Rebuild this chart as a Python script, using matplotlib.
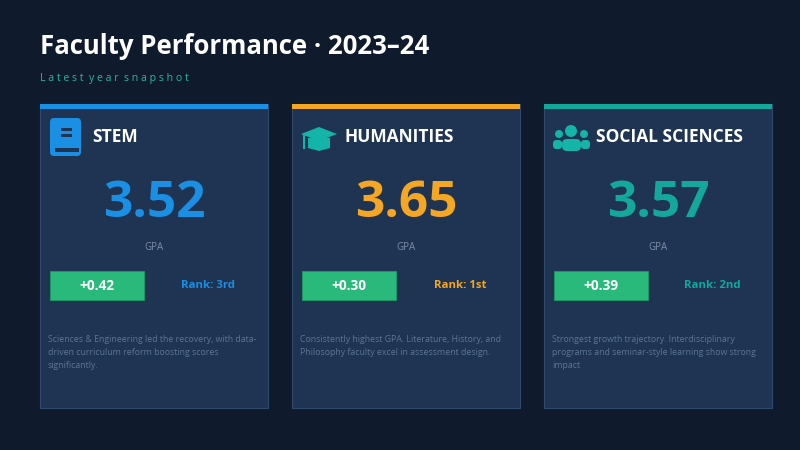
import matplotlib.pyplot as plt
from matplotlib.patches import Rectangle, FancyBboxPatch, Circle, Polygon

plt.rcParams['font.family'] = ['Open Sans', 'DejaVu Sans']

faculties = ['STEM', 'HUMANITIES', 'SOCIAL SCIENCES']
gpa = [3.52, 3.65, 3.57]
change = [0.42, 0.30, 0.39]
ranks = ['3rd', '1st', '2nd']
accents = ['#1a8fe3', '#f5a623', '#14a89c']
notes = [
    'Sciences & Engineering led the recovery, with data-\ndriven curriculum reform boosting scores\nsignificantly.',
    'Consistently highest GPA. Literature, History, and\nPhilosophy faculty excel in assessment design.',
    'Strongest growth trajectory. Interdisciplinary\nprograms and seminar-style learning show strong\nimpact',
]

bg = '#0f1b2d'
card_bg = '#1e3452'
fig = plt.figure(figsize=(8, 4.5), dpi=100, facecolor=bg)
ax = fig.add_axes([0, 0, 1, 1])
ax.set_xlim(0, 800)
ax.set_ylim(450, 0)
ax.axis('off')

ax.text(40, 46, 'Faculty Performance · 2023–24', color='white', fontsize=18.5,
        fontweight='bold', va='center', ha='left')
ax.text(40, 78, '  '.join(' '.join(w) for w in 'Latest year snapshot'.split()),
        color='#2bb5a0', fontsize=7.6, va='center', ha='left')


def icon_book(x, y, c):
    ax.add_patch(FancyBboxPatch((x + 1, y), 31, 38, boxstyle='round,pad=0,rounding_size=4',
                                fc=c, ec='none'))
    ax.add_patch(Rectangle((x + 12, y + 10), 11, 2.5, fc=card_bg, ec='none'))
    ax.add_patch(Rectangle((x + 12, y + 16), 11, 2.5, fc=card_bg, ec='none'))
    ax.add_patch(Rectangle((x + 6, y + 30), 24, 3.5, fc=card_bg, ec='none'))


def icon_cap(x, y, c):
    ax.add_patch(Polygon([(x, y + 11), (x + 18, y + 4), (x + 36, y + 11), (x + 18, y + 18)],
                         closed=True, fc=c, ec='none'))
    ax.add_patch(Polygon([(x + 7, y + 15), (x + 29, y + 15), (x + 29, y + 25),
                          (x + 18, y + 28), (x + 7, y + 25)], closed=True, fc=c, ec='none'))
    ax.add_patch(Rectangle((x + 2, y + 12), 2, 14, fc=c, ec='none'))


def icon_people(x, y, c):
    ax.add_patch(Circle((x + 18, y + 7), 6, fc=c, ec='none'))
    ax.add_patch(Circle((x + 6, y + 10), 4, fc=c, ec='none'))
    ax.add_patch(Circle((x + 31, y + 10), 4, fc=c, ec='none'))
    ax.add_patch(FancyBboxPatch((x + 9, y + 15), 19, 12, boxstyle='round,pad=0,rounding_size=5',
                                fc=c, ec='none'))
    ax.add_patch(FancyBboxPatch((x, y + 16), 9, 9, boxstyle='round,pad=0,rounding_size=3.5',
                                fc=c, ec='none'))
    ax.add_patch(FancyBboxPatch((x + 28, y + 16), 9, 9, boxstyle='round,pad=0,rounding_size=3.5',
                                fc=c, ec='none'))


icons = [icon_book, icon_cap, icon_people]
icon_colors = ['#1a8fe3', '#14b5a8', '#14b5a8']
icon_y = [118, 123, 124]

card_x = [40, 292, 544]
w, top, bottom = 228, 104, 408
for i, name in enumerate(faculties):
    x0 = card_x[i]
    ax.add_patch(Rectangle((x0, top), w, bottom - top, fc=card_bg, ec='#2f4a6c', lw=0.8))
    ax.add_patch(Rectangle((x0, top), w, 5, fc=accents[i], ec='none'))
    icons[i](x0 + 9, icon_y[i], icon_colors[i])
    ax.text(x0 + 52, 137, name, color='white', fontsize=12.5, fontweight='bold', va='center')
    cx = x0 + w / 2
    ax.text(cx, 204, f'{gpa[i]:.2f}', color=accents[i], fontsize=37, fontweight='bold',
            ha='center', va='center')
    ax.text(cx, 248, 'GPA', color='#7d8ea6', fontsize=7, ha='center', va='center')
    ax.add_patch(Rectangle((x0 + 10, 271), 94, 29, fc='#29b97a', ec='#1f9a63', lw=0.6))
    ax.text(x0 + 57, 285.5, f'+{change[i]:.2f}', color='white', fontsize=9.8, fontweight='bold',
            ha='center', va='center')
    ax.text(x0 + 168, 285.5, f'Rank: {ranks[i]}', color=accents[i], fontsize=8.2,
            fontweight='bold', ha='center', va='center')
    ax.text(x0 + 8, 335, notes[i], color='#5b7594', fontsize=6.3, ha='left', va='top',
            linespacing=1.55)

fig.savefig('out.png', dpi=100, facecolor=bg)
